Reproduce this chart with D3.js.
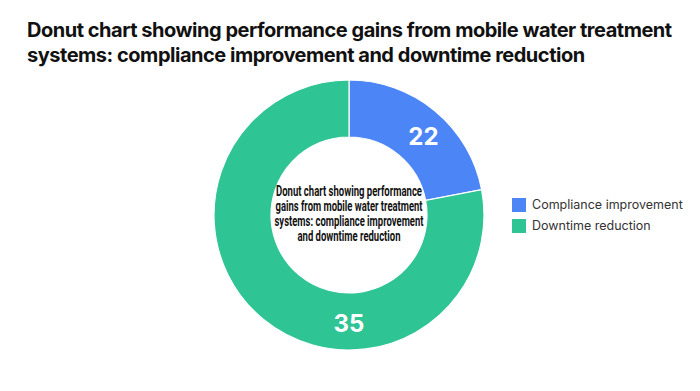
<!DOCTYPE html>
<html>
<head>
<meta charset="utf-8">
<script src="https://cdn.jsdelivr.net/npm/d3@7"></script>
<style>
  body { margin: 0; background: white; }
</style>
</head>
<body>
<div id="canvas"></div>
<script>
const width = 700;
const height = 391;

// data
const categories = ["Compliance improvement", "Downtime reduction"];
const values = [22, 35];
// share of the ring each slice covers in the picture (percent)
const arcShare = [22, 78];
const colors = ["#4b85f6", "#2ec493"];
const titleLines = [
    "Donut chart showing performance gains from mobile water treatment",
    "systems: compliance improvement and downtime reduction"
];
const centerLines = [
    "Donut chart showing performance",
    "gains from mobile water treatment",
    "systems: compliance improvement",
    "and downtime reduction"
];

const svg = d3.select("#canvas")
    .append("svg")
    .attr("width", width)
    .attr("height", height);

svg.append("rect")
    .attr("width", width)
    .attr("height", height)
    .attr("fill", "white");

// title
svg.selectAll("text.title")
    .data(titleLines)
    .join("text")
    .attr("class", "title")
    .attr("x", 27)
    .attr("y", (d, i) => 37 + i * 25)
    .attr("font-family", "Inter")
    .attr("font-weight", 700)
    .attr("font-size", 20)
    .attr("letter-spacing", -0.48)
    .attr("fill", "#111")
    .text(d => d);

const cx = 349;
const cy = 215;
const outerR = 135;
const innerR = 78;

const g = svg.append("g")
    .attr("transform", `translate(${cx},${cy})`);

const pie = d3.pie().sort(null).value(d => d);
const arcs = pie(arcShare);

const arc = d3.arc()
    .innerRadius(innerR)
    .outerRadius(outerR);

g.selectAll("path")
    .data(arcs)
    .join("path")
    .attr("d", arc)
    .attr("fill", (d, i) => colors[i])
    .attr("stroke", "white")
    .attr("stroke-width", 1.2);

// value labels
const labelR = 108;
const labelAngle = [0.76, Math.PI];
g.selectAll("text.val")
    .data(values)
    .join("text")
    .attr("class", "val")
    .attr("x", (d, i) => labelR * Math.sin(labelAngle[i]))
    .attr("y", (d, i) => -labelR * Math.cos(labelAngle[i]))
    .attr("dy", "0.36em")
    .attr("text-anchor", "middle")
    .attr("font-family", "Inter")
    .attr("font-weight", 700)
    .attr("font-size", 24)
    .attr("fill", "white")
    .text(d => d);

// text in the hole, condensed like the picture
const centerWidths = [146, 147, 149, 103];
g.selectAll("text.center")
    .data(centerLines)
    .join("text")
    .attr("class", "center")
    .attr("x", 0)
    .attr("y", (d, i) => -19 + i * 15)
    .attr("text-anchor", "middle")
    .attr("font-family", "Roboto")
    .attr("font-weight", 700)
    .attr("font-size", 14)
    .attr("fill", "#111")
    .attr("textLength", (d, i) => centerWidths[i])
    .attr("lengthAdjust", "spacingAndGlyphs")
    .text(d => d);

// legend
const legend = svg.append("g")
    .attr("transform", "translate(512,198)");

const item = legend.selectAll("g")
    .data(categories)
    .join("g")
    .attr("transform", (d, i) => `translate(0,${i * 21})`);

item.append("rect")
    .attr("width", 14)
    .attr("height", 14)
    .attr("fill", (d, i) => colors[i]);

item.append("text")
    .attr("x", 20)
    .attr("y", 7)
    .attr("dy", "0.35em")
    .attr("font-family", "Inter")
    .attr("font-size", 12.5)
    .attr("fill", "#333")
    .text(d => d);
</script>
</body>
</html>
